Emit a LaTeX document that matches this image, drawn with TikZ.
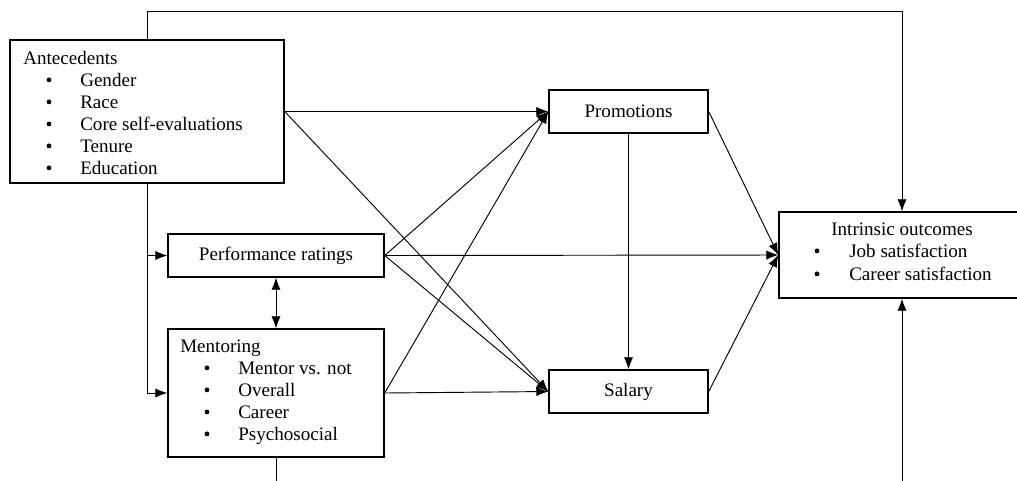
\documentclass[tikz,border=0pt]{standalone}
\usepackage{fontspec}
\setmainfont{Liberation Serif}
\usetikzlibrary{arrows.meta}
\begin{document}
\begin{tikzpicture}[x=0.75pt,y=-0.75pt,
  font=\fontsize{14.3}{16.5}\selectfont,
  box/.style={draw,line width=1.1pt,inner sep=0pt},
  txt/.style={anchor=base west,inner sep=0pt},
  bul/.style={circle,fill,inner sep=0pt,minimum size=3.6pt,yshift=4.6pt},
  conn/.style={line width=0.7pt},
  arr/.style={conn,-{Latex[length=9pt,width=7pt]}}]
\useasboundingbox (0,0) rectangle (1017,480);
\clip (0,0) rectangle (1017,480);
% boxes
\node[box,minimum width=205.5pt,minimum height=107.25pt] (ant) at (147,111.5) {};
\node[box,minimum width=162pt,minimum height=32.25pt] (perf) at (276,255.5) {Performance ratings};
\node[box,minimum width=162pt,minimum height=96pt] (ment) at (276,393) {};
\node[box,minimum width=119.25pt,minimum height=32.25pt] (prom) at (628.5,111.5) {Promotions};
\node[box,minimum width=119.25pt,minimum height=32.25pt] (sal) at (628.5,391.5) {Salary};
\node[box,minimum width=184.5pt,minimum height=64.5pt] (intr) at (902,255) {};
% antecedents text
\node[txt] (a0) at (23,64) {Antecedents};
\node[bul] (ab1) at (49,86) {};
\node[txt] (a1) at (80,86) {Gender};
\node[bul] (ab2) at (49,108) {};
\node[txt] (a2) at (80,108) {Race};
\node[bul] (ab3) at (49,130) {};
\node[txt] (a3) at (80,130) {Core self-evaluations};
\node[bul] (ab4) at (49,152) {};
\node[txt] (a4) at (80,152) {Tenure};
\node[bul] (ab5) at (49,174) {};
\node[txt] (a5) at (80,174) {Education};
% mentoring text
\node[txt] (m0) at (180,352) {Mentoring};
\node[bul] (mb1) at (207,374) {};
\node[txt] (m1) at (238,374) {Mentor vs. not};
\node[bul] (mb2) at (207,396) {};
\node[txt] (m2) at (238,396) {Overall};
\node[bul] (mb3) at (207,418) {};
\node[txt] (m3) at (238,418) {Career};
\node[bul] (mb4) at (207,440) {};
\node[txt] (m4) at (238,440) {Psychosocial};
% intrinsic text
\node[anchor=base,inner sep=0pt] (i0) at (902,235) {Intrinsic outcomes};
\node[bul] (ib1) at (817,257) {};
\node[txt] (i1) at (849,257) {Job satisfaction};
\node[bul] (ib2) at (817,280) {};
\node[txt] (i2) at (849,280) {Career satisfaction};
% coordinates
\coordinate (tl) at (147,11);
\coordinate (tr) at (902,11);
\coordinate (lp) at (147,255.5);
\coordinate (lm) at (147,393);
\coordinate (bl) at (276,482);
\coordinate (br) at (902,482);
% connectors
\draw[arr] (ant.north) -- (tl) -- (tr) -- (intr.north);
\draw[conn] (ant.south) -- (lm);
\draw[arr] (lp) -- (perf.west);
\draw[arr] (lm) -- (ment.west);
\draw[conn,{Latex[length=9pt,width=7pt]}-{Latex[length=9pt,width=7pt]}] (perf.south) -- (ment.north);
\draw[conn] (ment.south) -- (bl);
\draw[arr] (br) -- (intr.south);
\draw[arr] (ant.east) -- (prom.west);
\draw[arr] (ant.east) -- (sal.west);
\draw[arr] (perf.east) -- (prom.west);
\draw[arr] (perf.east) -- (intr.west);
\draw[arr] (perf.east) -- (sal.west);
\draw[arr] (ment.east) -- (prom.west);
\draw[arr] (ment.east) -- (sal.west);
\draw[arr] (prom.south) -- (sal.north);
\draw[arr] (prom.east) -- (intr.west);
\draw[arr] (sal.east) -- (intr.west);
\end{tikzpicture}
\end{document}
